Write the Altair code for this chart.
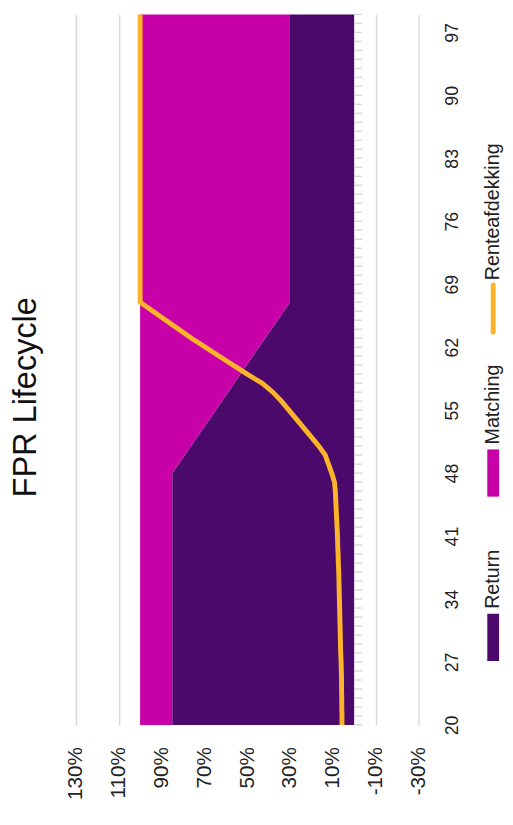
import altair as alt
import pandas as pd

# ---------------- data ----------------
AGES = list(range(20, 100))

RETURN = [85, 85, 85, 85, 85, 85, 85, 85, 85, 85,
          85, 85, 85, 85, 85, 85, 85, 85, 85, 85,
          85, 85, 85, 85, 85, 85, 85, 85, 85,
          82.1, 79.2, 76.3, 73.4, 70.5, 67.6, 64.7, 61.8, 58.9, 56.1,
          53.2, 50.3, 47.4, 44.5, 41.6, 38.7, 35.8, 32.9, 30,
          30, 30, 30, 30, 30, 30, 30, 30, 30, 30,
          30, 30, 30, 30, 30, 30, 30, 30, 30, 30,
          30, 30, 30, 30, 30, 30, 30, 30, 30, 30,
          30, 30]

HEDGE = [5.7, 5.7, 5.8, 5.8, 5.9, 5.9, 6.0, 6.1, 6.3, 6.4,
         6.5, 6.6, 6.7, 6.8, 6.9, 7.0, 7.1, 7.2, 7.4, 7.5,
         7.7, 7.8, 8.0, 8.2, 8.4, 8.6, 8.8, 9.2,
         10.5, 12, 13.5, 16.5, 20, 23.5, 27, 30.5, 34, 38,
         43, 50, 56.5, 63, 69.5, 76, 82, 88, 94, 100,
         100, 100, 100, 100, 100, 100, 100, 100, 100, 100,
         100, 100, 100, 100, 100, 100, 100, 100, 100, 100,
         100, 100, 100, 100, 100, 100, 100, 100, 100, 100,
         100, 100]

SERIES = ["Return", "Matching", "Renteafdekking"]
COLORS = ["#4B0A6B", "#C800A8", "#FBB42A"]
PCT_TICKS = [-30, -10, 10, 30, 50, 70, 90, 110, 130]
AGE_TICKS = [20, 27, 34, 41, 48, 55, 62, 69, 76, 83, 90, 97]
TITLE = "FPR Lifecycle"

# ---------------- layout ----------------
W, H = 348, 722
FONT = "Liberation Sans"
TXT = "#222222"
LEG_X = W + 76

area_df = pd.DataFrame({
    "age": AGES + AGES,
    "value": RETURN + [100 - v for v in RETURN],
    "series": ["Return"] * len(AGES) + ["Matching"] * len(AGES),
    "ord": [0] * len(AGES) + [1] * len(AGES),
})
line_df = pd.DataFrame({"age": AGES, "value": HEDGE})
tick_df = pd.DataFrame({"age": AGES})

xs = alt.Scale(domain=[-30, 130], reverse=True, nice=False, zero=False)
ys = alt.Scale(domain=[20, 99], nice=False, zero=False)
cs = alt.Scale(domain=SERIES, range=COLORS)

y_axis = alt.Axis(
    orient="right", values=AGE_TICKS, labelAngle=270, labelAlign="center",
    labelBaseline="top", labelPadding=26, ticks=False, domain=False,
    grid=False, labelFontSize=18, labelColor=TXT, labelFont=FONT, title=None)
x_axis = alt.Axis(
    orient="bottom", values=PCT_TICKS, labelExpr="datum.value + '%'",
    labelAngle=270, labelAlign="right", labelBaseline="middle",
    labelPadding=22, ticks=False, domain=False, grid=True,
    gridColor="#D9D9D9", gridWidth=1.5, labelFontSize=21,
    labelColor=TXT, labelFont=FONT, title=None)

area = alt.Chart(area_df).mark_area(orient="horizontal").encode(
    y=alt.Y("age:Q", scale=ys, axis=y_axis),
    x=alt.X("value:Q", stack="zero", scale=xs, axis=x_axis),
    color=alt.Color("series:N", scale=cs, legend=None),
    order=alt.Order("ord:Q"),
)

ticks = alt.Chart(tick_df).mark_rule(color="#D9D9D9", strokeWidth=1.5, x2Offset=8).encode(
    y=alt.Y("age:Q", scale=ys, axis=y_axis),
    x=alt.XDatum(0, scale=xs, axis=x_axis),
    x2=alt.X2Datum(0),
)

line = alt.Chart(line_df).mark_line(color=COLORS[2], strokeWidth=5).encode(
    y=alt.Y("age:Q", scale=ys, axis=y_axis),
    x=alt.X("value:Q", scale=xs, axis=x_axis),
    order=alt.Order("age:Q"),
)

plot = alt.layer(area, ticks, line)

# ---------------- manual rotated legend ----------------
LEG_BASE, LEG_STEP, SYM, GAP = 65, 167, 48, 5
leg_df = pd.DataFrame({"name": SERIES, "kind": ["box", "box", "line"]})
leg_df["i"] = range(len(SERIES))
leg_df["s0"] = LEG_BASE + leg_df["i"] * LEG_STEP
leg_df["s1"] = leg_df["s0"] + SYM
leg_df["t"] = leg_df["s1"] + GAP

ly = alt.Scale(domain=[0, H], nice=False, zero=False)
lbase = alt.Chart(leg_df)

boxes = lbase.transform_filter("datum.kind == 'box'").mark_rect().encode(
    x=alt.value(LEG_X - 6), x2=alt.value(LEG_X + 6),
    y=alt.Y("s0:Q", scale=ly, axis=None), y2="s1:Q",
    color=alt.Color("name:N", scale=cs, legend=None),
)
lline = lbase.transform_filter("datum.kind == 'line'").mark_rule(
    strokeWidth=5, strokeCap="round").encode(
    x=alt.value(LEG_X),
    y=alt.Y("s0:Q", scale=ly, axis=None), y2="s1:Q",
    color=alt.Color("name:N", scale=cs, legend=None),
)
ltext = lbase.mark_text(angle=270, align="left", baseline="middle",
                        fontSize=20, color=TXT, font=FONT).encode(
    x=alt.value(LEG_X),
    y=alt.Y("t:Q", scale=ly, axis=None),
    text="name:N",
)
legend_layer = alt.layer(boxes, lline, ltext)

chart = alt.layer(plot, legend_layer).resolve_scale(y="independent").properties(
    width=W, height=H,
    padding={"left": 69, "top": 0, "right": 88, "bottom": 87},
    autosize=alt.AutoSizeParams(type="none"),
    title=alt.TitleParams(TITLE, orient="left", anchor="middle", frame="group",
                          fontSize=33, fontWeight="normal", color="#111111",
                          font=FONT, offset=23, dx=-28),
).configure(font=FONT, view=alt.ViewConfig(stroke=None))

chart.save("out.html", embed_options={"renderer": "svg", "actions": False})
